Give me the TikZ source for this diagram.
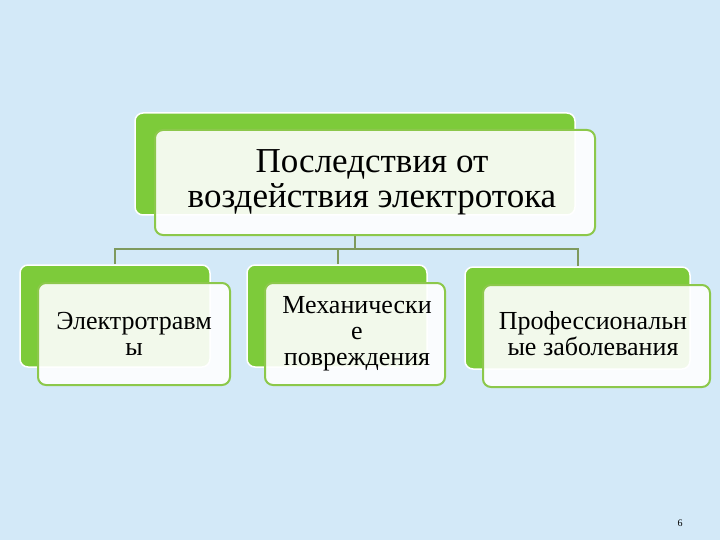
\documentclass[tikz,border=0pt]{standalone}
\usepackage{fontspec}
\setmainfont{Liberation Serif}
\definecolor{bg}{HTML}{D3E9F8}
\definecolor{gr}{HTML}{7DCB3A}
\definecolor{grb}{HTML}{8CC84B}
\definecolor{ln}{HTML}{7E9A5E}
\begin{document}
\begin{tikzpicture}[x=1pt,y=-1pt,
  back/.style={fill=gr,draw=white,line width=1.5pt,rounded corners=8pt},
  front/.style={fill=white,fill opacity=0.9,text opacity=1,draw=grb,line width=2pt,rounded corners=8pt},
  lbl/.style={align=center,font=\fontsize{26}{26}\selectfont},
  conn/.style={draw=ln,line width=1.5pt}]
\fill[bg] (0,0) rectangle (720,540);
\useasboundingbox (0,0) rectangle (720,540);
% top
\draw[back] (135,113) rectangle (575,215);
\draw[front] (155,130) rectangle (595,235);
\node[lbl,font=\fontsize{35}{35}\selectfont] (top) at (372,182) {Последствия от\\воздействия электротока};
% children
\draw[back] (20,265) rectangle (210,367);
\draw[front] (38,283) rectangle (230,385);
\node[lbl] (c1) at (134,334) {Электротравм\\ы};
\draw[back] (247,265) rectangle (427,367);
\draw[front] (265,283) rectangle (445,385);
\node[lbl] (c2) at (357,334) {Механически\\е\\повреждения};
\draw[back] (465,267) rectangle (690,369);
\draw[front] (483,285) rectangle (710,387);
\node[lbl] (c3) at (593,334) {Профессиональн\\ые заболевания};
% connectors
\coordinate (t) at (355,236);
\coordinate (h) at (355,249);
\coordinate (a1) at (115,264);
\coordinate (a2) at (338,264);
\coordinate (a3) at (578,266);
\draw[conn] (t) -- (h);
\draw[conn] (a1) |- (h) -| (a3);
\draw[conn] (a2) -- (a2 |- h);
\node[font=\fontsize{10}{12}\selectfont] (pg) at (680,523) {6};
\end{tikzpicture}
\end{document}
